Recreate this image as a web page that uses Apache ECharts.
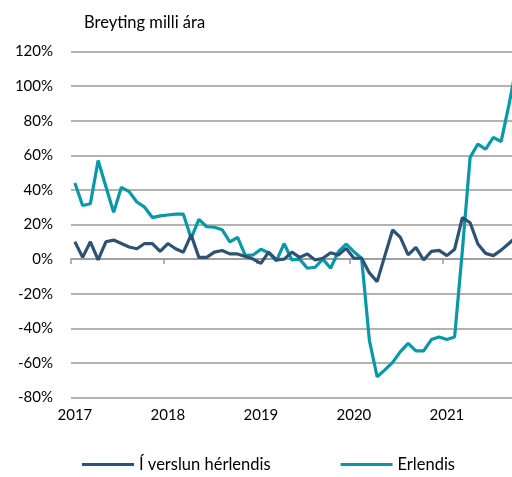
<!DOCTYPE html>
<html>
<head>
<meta charset="utf-8">
<script src="https://cdn.jsdelivr.net/npm/echarts@6/dist/echarts.min.js"></script>
<style>
  html, body { margin: 0; padding: 0; background: #fff; }
  #chart { width: 512px; height: 477px; }
</style>
</head>
<body>
<div id="chart"></div>
<script>
// gögn lesin af myndinni, mánaðarleg gildi jan 2017 - okt 2021
var years = ['2017', '2018', '2019', '2020', '2021'];
var nMonths = 58;

var hérlendis = [10, 1, 10, -0.5, 10, 11, 9, 7, 6, 9, 9, 4.5,
	9, 6, 4, 14, 1, 1, 4, 5, 3, 3, 1.5, 0,
	-2.5, 4, -0.5, 0, 4, 1, 3, -0.5, 0.5, 3.7, 2.4, 6.2,
	0.5, 0.5, -8, -13, 2, 16.8, 12.6, 2.4, 6.8, -0.5, 4.5, 5,
	2, 5.7, 24, 21, 8.7, 3.3, 2, 5.2, 9, 13];

var erlendis = [44, 31, 32, 57, 42, 27, 41.5, 39, 33, 30, 24, 25,
	25.5, 26, 26, 12, 23, 18.7, 18.4, 17, 10, 12.6, 2, 2.4,
	5.7, 3.7, -1, 9, -0.5, 0, -5.3, -4.7, 0, -5.3, 4.3, 8.7,
	4.3, 0.5, -47, -68, -64, -59.7, -53.5, -48.7, -53, -53, -46.5, -45,
	-46.5, -45, 5, 58.8, 66.5, 63.5, 70.4, 67.9, 89, 112];

var yMin = -80, yMax = 120, yStep = 20;

var months = [];
for (var i = 0; i < nMonths; i++) {
	var y = years[0] * 1 + Math.floor(i / 12);
	var m = (i % 12) + 1;
	months.push(y + '-' + (m < 10 ? '0' + m : m));
}

var txt = { fontFamily: 'Lato', fontSize: 15, color: '#000' };

var myChart = echarts.init(document.getElementById('chart'), null, { renderer: 'canvas' });
myChart.setOption({
	animation: false,
	title: {
		text: 'Breyting milli ára',
		left: 79, top: 9,
		textStyle: { fontFamily: 'Lato', fontSize: 16.5, fontWeight: 'normal', color: '#000' }
	},
	grid: {
		left: 71, width: 449.5, top: 51.5, bottom: 79.5,
		containLabel: false, outerBoundsMode: 'none'
	},
	legend: {
		bottom: -1, left: 77,
		itemWidth: 52, itemHeight: 3, itemGap: 70,
		icon: 'rect',
		textStyle: { fontFamily: 'Lato', fontSize: 16.5, color: '#000' },
		data: ['Í verslun hérlendis', 'Erlendis']
	},
	xAxis: [{
		type: 'category',
		data: months,
		position: 'bottom',
		axisLine: { show: false, onZero: false },
		axisTick: { show: false },
		splitLine: { show: false },
		axisLabel: Object.assign({
			interval: 11,
			margin: 10,
			formatter: function (v) { return v.slice(0, 4); }
		}, txt)
	}, {
		type: 'category',
		data: months,
		position: 'bottom',
		axisLine: { show: true, onZero: true, lineStyle: { color: '#999', width: 1.5 } },
		axisTick: { show: true, interval: 11, length: 5, lineStyle: { color: '#999', width: 1.5 } },
		axisLabel: { show: false },
		splitLine: { show: false }
	}],
	yAxis: {
		type: 'value',
		min: yMin, max: yMax, interval: yStep,
		axisLine: { show: false },
		axisTick: { show: false },
		splitLine: { lineStyle: { color: '#999', width: 1.5 } },
		axisLabel: Object.assign({ margin: 18, formatter: '{value}%' }, txt)
	},
	series: [{
		name: 'Í verslun hérlendis',
		type: 'line',
		data: hérlendis,
		symbol: 'none',
		lineStyle: { color: '#2E5273', width: 3.2 },
		itemStyle: { color: '#2E5273' },
		z: 3
	}, {
		name: 'Erlendis',
		type: 'line',
		data: erlendis,
		symbol: 'none',
		lineStyle: { color: '#0898A8', width: 3.2 },
		itemStyle: { color: '#0898A8' },
		z: 2
	}]
});
</script>
</body>
</html>
